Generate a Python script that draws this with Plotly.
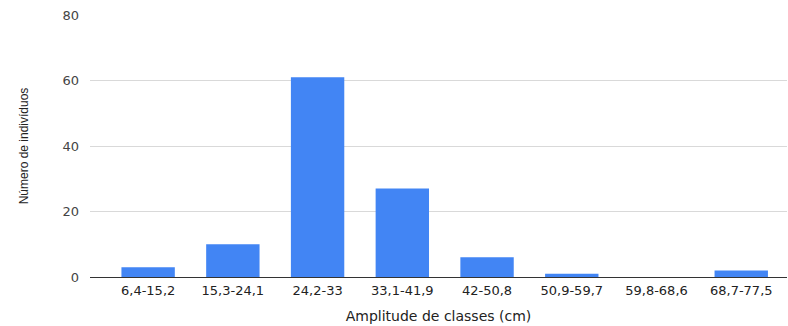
import plotly.graph_objects as go

categories = ["6,4-15,2", "15,3-24,1", "24,2-33", "33,1-41,9", "42-50,8",
              "50,9-59,7", "59,8-68,6", "68,7-77,5"]
counts = [3, 10, 61, 27, 6, 1, 0, 2]
y_ticks = [0, 20, 40, 60, 80]

fig = go.Figure(go.Bar(
    x=list(range(len(categories))), y=counts,
    marker=dict(color="#4285F4", line=dict(width=0)),
    width=0.63,
))

fig.update_layout(
    width=788, height=326,
    margin=dict(l=90, r=1, t=15, b=49),
    paper_bgcolor="white", plot_bgcolor="white",
    font=dict(family="DejaVu Sans, sans-serif", size=12, color="#222222"),
    showlegend=False,
    xaxis=dict(
        range=[-0.686, 7.54],
        tickmode="array", tickvals=list(range(len(categories))), ticktext=categories,
        showgrid=False, zeroline=False, showline=False, ticks="",
        tickfont=dict(family="DejaVu Sans, sans-serif", size=13, color="#222222"),
        ticklabelstandoff=4,
        title=dict(text="Amplitude de classes (cm)",
                   font=dict(family="DejaVu Sans, sans-serif", size=14, color="#222222"),
                   standoff=14),
    ),
    yaxis=dict(
        range=[0, 80],
        tickmode="array", tickvals=y_ticks,
        showgrid=True, gridcolor="#d9d9d9", gridwidth=1,
        zeroline=True, zerolinecolor="#333333", zerolinewidth=1,
        showline=False, ticks="",
        tickfont=dict(family="DejaVu Sans, sans-serif", size=13, color="#444444"),
        ticklabelstandoff=10,
        title=dict(text="Número de indivíduos",
                   font=dict(family="Liberation Sans, Arial, sans-serif", size=12, color="#222222"),
                   standoff=31),
    ),
)

fig.write_html("out.html", post_script="document.body.style.margin='0';",
               config={"displayModeBar": False})
